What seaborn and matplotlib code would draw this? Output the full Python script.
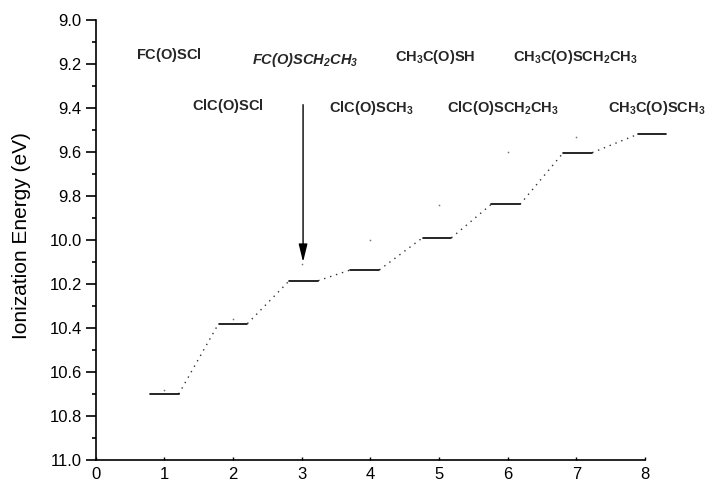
import numpy as np
import pandas as pd
import seaborn as sns
import matplotlib.pyplot as plt
from matplotlib.ticker import MultipleLocator, FormatStrFormatter

# ionization energy levels (eV) and where each step sits on the x axis
level_x = [1.0, 2.0, 3.03, 3.92, 4.97, 5.97, 7.02, 8.1]
level_ie = [10.70, 10.38, 10.185, 10.136, 9.99, 9.838, 9.603, 9.52]
half_width = 0.21

# faint single points next to the steps
dot_x = [1, 2, 3, 4, 5, 6, 7]
dot_ie = [10.68, 10.36, 10.11, 10.0, 9.84, 9.60, 9.53]

# compound labels
labels = [r'$\mathbf{FC(O)SCl}$',
          r'$\mathbf{ClC(O)SCl}$',
          r'$\mathbfit{FC(O)SCH_2CH_3}$',
          r'$\mathbf{ClC(O)SCH_3}$',
          r'$\mathbf{CH_3C(O)SH}$',
          r'$\mathbf{ClC(O)SCH_2CH_3}$',
          r'$\mathbf{CH_3C(O)SCH_2CH_3}$',
          r'$\mathbf{CH_3C(O)SCH_3}$']
label_x = [1.07, 1.93, 3.05, 4.01, 4.94, 5.93, 6.99, 8.17]
label_ie = [9.16, 9.39, 9.18, 9.40, 9.17, 9.40, 9.17, 9.40]

arrow_x = 3.02
arrow_from = 9.385
arrow_to = 10.10

sns.set_theme(style="ticks")
plt.rcParams['font.family'] = ['Liberation Sans', 'DejaVu Sans']
plt.rcParams['mathtext.fontset'] = 'custom'
plt.rcParams['mathtext.rm'] = 'Liberation Sans'
plt.rcParams['mathtext.bf'] = 'Liberation Sans:bold'
plt.rcParams['mathtext.bfit'] = 'Liberation Sans:italic:bold'

# build the step segments and the dotted connectors
seg_rows = []
for i, (x, y) in enumerate(zip(level_x, level_ie)):
    seg_rows.append({"seg": i, "x": x - half_width, "ie": y})
    seg_rows.append({"seg": i, "x": x + half_width, "ie": y})
seg_df = pd.DataFrame(seg_rows)

con_rows = []
for i in range(len(level_x) - 1):
    con_rows.append({"seg": i, "x": level_x[i] + half_width, "ie": level_ie[i]})
    con_rows.append({"seg": i, "x": level_x[i + 1] - half_width, "ie": level_ie[i + 1]})
con_df = pd.DataFrame(con_rows)

dot_df = pd.DataFrame({"x": dot_x, "ie": dot_ie})

fig = plt.figure(figsize=(7.05, 4.84), dpi=100)
ax = fig.add_axes([0.1357, 0.0496, 0.7793, 0.9091])

sns.lineplot(data=con_df, x="x", y="ie", units="seg", estimator=None, sort=False,
             color="#333333", linewidth=1.0, linestyle=(0, (1, 3.5)), ax=ax)
sns.lineplot(data=seg_df, x="x", y="ie", units="seg", estimator=None, sort=False,
             color="black", linewidth=1.2, ax=ax)
sns.scatterplot(data=dot_df, x="x", y="ie", color="#777777", s=1.5,
                linewidth=0, ax=ax)
for ln in ax.lines:
    ln.set_clip_on(False)

for txt, x, y in zip(labels, label_x, label_ie):
    ax.text(x, y, txt, ha="center", va="center", fontsize=10.5)

ax.annotate("", xy=(arrow_x, arrow_to), xytext=(arrow_x, arrow_from),
            arrowprops=dict(arrowstyle="-|>,head_length=0.9,head_width=0.22",
                            color="black", lw=1.0, shrinkA=0, shrinkB=0))

ax.set_xlim(0, 8)
ax.set_ylim(11.0, 9.0)
ax.xaxis.set_major_locator(MultipleLocator(1))
ax.yaxis.set_major_locator(MultipleLocator(0.2))
ax.yaxis.set_minor_locator(MultipleLocator(0.1))
ax.yaxis.set_major_formatter(FormatStrFormatter('%.1f'))
ax.tick_params(axis='y', which='major', direction='out', length=7, width=1.2,
               labelsize=12, pad=3, color='black', labelcolor='black')
ax.tick_params(axis='y', which='minor', direction='out', length=3, width=1.2,
               color='black')
ax.tick_params(axis='x', which='major', direction='in', length=2, width=1.0,
               labelsize=12, pad=5, color='black', labelcolor='black')
ax.set_xlabel("")
ax.set_ylabel("Ionization Energy (eV)", fontsize=15, color='black')
ax.yaxis.set_label_coords(-0.118, 0.51)
sns.despine(ax=ax)
for side in ["left", "bottom"]:
    ax.spines[side].set_linewidth(1.2)
    ax.spines[side].set_color("black")

fig.savefig("out.png", dpi=100)
